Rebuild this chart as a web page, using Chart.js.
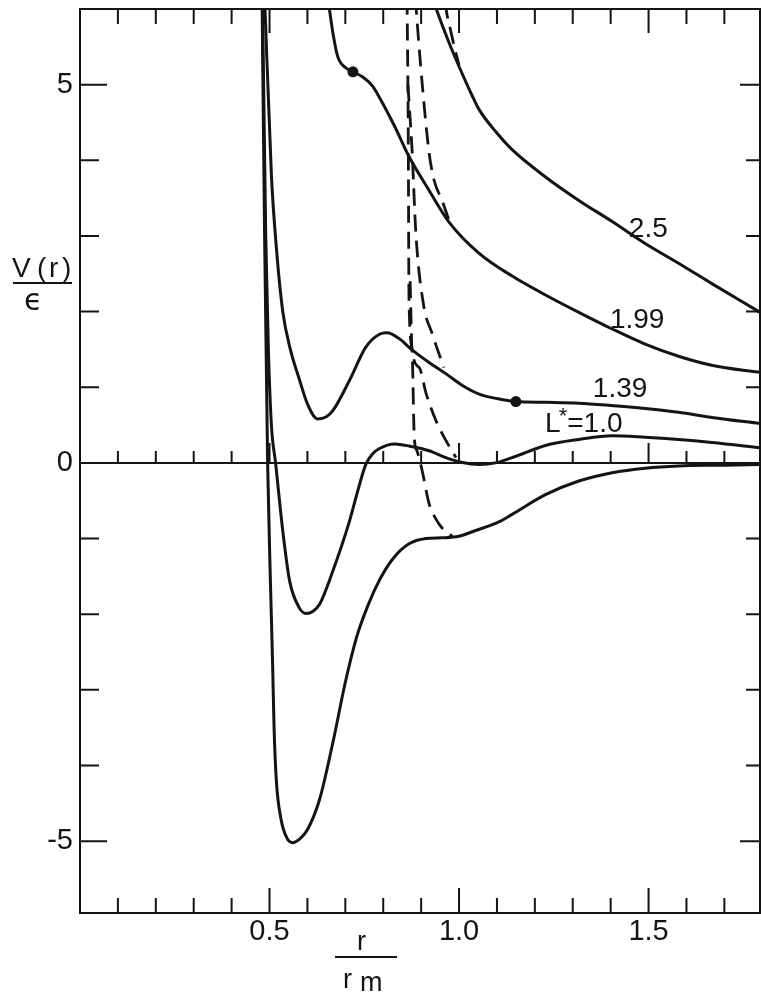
<!DOCTYPE html>
<html>
<head>
<meta charset="utf-8">
<script src="https://cdn.jsdelivr.net/npm/chart.js@4.4.1/dist/chart.umd.min.js"></script>
<style>
  html, body { margin: 0; padding: 0; background: #fff; overflow: hidden; }
  #wrap { width: 761px; height: 995px; position: relative; overflow: hidden; }
  #c { display: block; }
</style>
</head>
<body>
<div id="wrap"><canvas id="c"></canvas></div>
<script>
// ---------- data ----------
const xMin = 0, xMax = 1.794;
const yMin = -5.95, yMax = 6;
const xTickValues = [0.1,0.2,0.3,0.4,0.5,0.6,0.7,0.8,0.9,1.0,1.1,1.2,1.3,1.4,1.5,1.6,1.7];
const xLabelTicks = [0.5, 1.0, 1.5];
const yTickValues = [-5,-4,-3,-2,-1,1,2,3,4,5];
const yLabelTicks = [-5, 0, 5];

// bottom curve (deep well, unlabeled)
const c0X = [0.480,0.487,0.495,0.502,0.508,0.512,0.518,0.530,0.545,0.561,0.580,0.600,0.632,0.667,0.700,0.730,0.760,0.790,0.825,0.868,0.913,0.955,1.000,1.040,1.105,1.140,1.228,1.316,1.404,1.491,1.579,1.700,1.794];
const c0Y = [6.3,3.0,0.0,-1.5,-2.63,-3.5,-4.2,-4.7,-4.95,-5.02,-4.97,-4.85,-4.45,-3.7,-2.9,-2.3,-1.88,-1.55,-1.27,-1.07,-1.0,-0.99,-0.97,-0.90,-0.78,-0.68,-0.42,-0.24,-0.13,-0.07,-0.04,-0.03,-0.02];
// L* = 1.0
const c1X = [0.481,0.490,0.497,0.505,0.516,0.535,0.553,0.579,0.597,0.615,0.632,0.667,0.711,0.735,0.754,0.772,0.790,0.830,0.870,0.921,0.965,1.009,1.053,1.096,1.140,1.228,1.316,1.404,1.491,1.579,1.667,1.794];
const c1Y = [6.3,3.0,1.5,0.5,0.0,-0.9,-1.56,-1.92,-1.99,-1.96,-1.87,-1.43,-0.77,-0.33,-0.02,0.12,0.19,0.25,0.22,0.16,0.07,0.005,-0.02,0.0,0.07,0.23,0.31,0.36,0.34,0.31,0.27,0.20];
// L* = 1.39
const c2X = [0.486,0.505,0.518,0.535,0.555,0.579,0.600,0.627,0.650,0.667,0.711,0.754,0.790,0.810,0.840,0.877,0.920,0.965,1.010,1.053,1.100,1.150,1.230,1.316,1.400,1.491,1.579,1.667,1.794];
const c2Y = [6.3,3.8,2.85,2.0,1.5,1.1,0.78,0.58,0.61,0.69,1.09,1.53,1.70,1.72,1.65,1.49,1.33,1.18,1.02,0.91,0.85,0.81,0.80,0.79,0.76,0.72,0.67,0.60,0.52];
// L* = 1.99
const c3X = [0.652,0.658,0.667,0.680,0.702,0.720,0.746,0.772,0.790,0.830,0.868,0.920,0.974,1.053,1.140,1.228,1.316,1.404,1.491,1.579,1.667,1.755,1.794];
const c3Y = [6.2,6.0,5.69,5.37,5.22,5.17,5.10,4.98,4.83,4.45,4.05,3.61,3.18,2.77,2.47,2.22,1.99,1.77,1.57,1.41,1.29,1.22,1.20];
// L* = 2.5
const c4X = [0.930,0.940,0.970,1.000,1.035,1.053,1.100,1.140,1.228,1.316,1.404,1.491,1.579,1.667,1.794];
const c4Y = [6.15,6.0,5.60,5.24,4.85,4.67,4.36,4.14,3.78,3.47,3.19,2.90,2.64,2.37,1.99];
// dashed loci
const d1X = [0.964,0.966,0.979,0.990,1.000];
const d1Y = [6.1,6.0,5.69,5.45,5.26];
const d2X = [0.885,0.887,0.903,0.921,0.934,0.955,0.974];
const d2Y = [6.15,6.0,5.0,4.1,3.74,3.47,3.2];
const d3X = [0.8625,0.863,0.866,0.868,0.876,0.882,0.889,0.903,0.921,0.940,0.955,0.982];
const d3Y = [6.15,6.0,4.36,2.15,1.49,0.33,0.16,-0.11,-0.54,-0.75,-0.86,-0.97];
const d4X = [0.865,0.876,0.886,0.906,0.929,0.960];
const d4Y = [5.0,4.14,3.04,2.10,1.71,1.26];
const d5X = [0.871,0.876,0.895,0.913,0.939,0.966,0.992];
const d5Y = [2.4,1.49,1.26,0.92,0.56,0.29,0.07];
// inflection dots
const dotX = [0.720, 1.150];
const dotY = [5.17, 0.81];
// curve labels: [text, x, y] (baseline-left anchor, data coords)
const curveLabels = [["2.5", 1.448, 2.99], ["1.99", 1.398, 1.783], ["1.39", 1.353, 0.871]];
const lstarLabel = {x: 1.227, y: 0.408};

// ---------- build ----------
const INK = '#141414';
const pts = (xs, ys) => xs.map((x, i) => ({x, y: ys[i]}));
const solid = (xs, ys) => ({data: pts(xs, ys), showLine: true, borderColor: INK, borderWidth: 3,
  pointRadius: 0, fill: false, cubicInterpolationMode: 'monotone'});
const dashed = (xs, ys) => ({data: pts(xs, ys), showLine: true, borderColor: INK, borderWidth: 2.8,
  borderDash: [17, 9], pointRadius: 0, fill: false, cubicInterpolationMode: 'monotone'});

const framePlugin = {
  id: 'frame',
  beforeDatasetsDraw(chart) {
    const {ctx, chartArea: a, scales: {x, y}} = chart;
    ctx.save();
    ctx.strokeStyle = INK;
    ctx.lineWidth = 2;
    ctx.beginPath();
    ctx.rect(a.left, a.top, a.right - a.left, a.bottom - a.top);
    const y0 = y.getPixelForValue(0);
    ctx.moveTo(a.left, y0); ctx.lineTo(a.right, y0);
    for (const v of xTickValues) {
      const px = x.getPixelForValue(v);
      const major = xLabelTicks.some(m => Math.abs(m - v) < 1e-9);
      ctx.moveTo(px, a.bottom); ctx.lineTo(px, a.bottom - (major ? 25 : 15));
      ctx.moveTo(px, a.top); ctx.lineTo(px, a.top + (major ? 24 : 15));
      ctx.moveTo(px, y0); ctx.lineTo(px, y0 - (major ? 20 : 12));
    }
    for (const v of yTickValues) {
      const py = y.getPixelForValue(v);
      const major = Math.abs(v) === 5;
      ctx.moveTo(a.left, py); ctx.lineTo(a.left + (major ? 27 : 19), py);
      ctx.moveTo(a.right, py); ctx.lineTo(a.right - (major ? 20 : 14), py);
    }
    ctx.stroke();
    ctx.restore();
  },
  afterDraw(chart) {
    const {ctx, scales: {x, y}} = chart;
    ctx.save();
    ctx.fillStyle = INK;
    ctx.textBaseline = 'alphabetic';
    ctx.textAlign = 'left';
    ctx.font = '28px "Liberation Sans"';
    for (const [t, lx, ly] of curveLabels) {
      ctx.fillText(t, x.getPixelForValue(lx), y.getPixelForValue(ly));
    }
    // L*=1.0
    let lx = x.getPixelForValue(lstarLabel.x), ly = y.getPixelForValue(lstarLabel.y);
    ctx.fillText('L', lx, ly);
    lx += ctx.measureText('L').width - 2;
    ctx.font = '22px "Liberation Sans"';
    ctx.fillText('*', lx, ly - 9);
    lx += ctx.measureText('*').width;
    ctx.font = '28px "Liberation Sans"';
    ctx.fillText('=1.0', lx, ly);

    // y-axis title  V(r) / ϵ
    ctx.font = '28px "Liberation Sans"';
    ctx.fillText('V', 12, 277);
    ctx.fillText('(', 37, 277);
    ctx.fillText('r', 49, 277);
    ctx.fillText(')', 62, 277);
    ctx.fillRect(13, 282, 59, 2);
    ctx.font = '30px "DejaVu Sans"';
    ctx.fillText('\u03F5', 24, 310);

    // x-axis title  r / r_m
    ctx.font = '27px "Liberation Sans"';
    ctx.fillText('r', 357, 950);
    ctx.fillRect(335, 956, 62, 2);
    ctx.fillText('r', 343, 988);
    ctx.fillText('m', 360, 991);
    ctx.restore();
  }
};

new Chart(document.getElementById('c'), {
  type: 'scatter',
  data: {
    datasets: [
      solid(c0X, c0Y), solid(c1X, c1Y), solid(c2X, c2Y), solid(c3X, c3Y), solid(c4X, c4Y),
      dashed(d1X, d1Y), dashed(d2X, d2Y), dashed(d3X, d3Y), dashed(d4X, d4Y), dashed(d5X, d5Y),
      {data: pts(dotX, dotY), showLine: false, pointRadius: 5.5, pointBackgroundColor: INK,
       pointBorderColor: INK, borderWidth: 0, clip: false}
    ]
  },
  options: {
    responsive: true,
    maintainAspectRatio: false,
    animation: false,
    events: [],
    layout: {autoPadding: false, padding: {top: 9, right: 1, left: 0, bottom: 0}},
    plugins: {legend: {display: false}, tooltip: {enabled: false}},
    scales: {
      x: {
        type: 'linear', min: xMin, max: xMax,
        grid: {display: false, drawTicks: false},
        border: {display: false},
        afterBuildTicks: s => { s.ticks = xLabelTicks.map(v => ({value: v})); },
        afterFit: s => { s.height = 82; s.paddingLeft = 0; s.paddingRight = 0; },
        ticks: {
          autoSkip: false, maxRotation: 0, padding: 2, color: INK,
          font: {family: 'Liberation Sans', size: 29},
          callback: v => Number(v).toFixed(1)
        }
      },
      y: {
        type: 'linear', min: yMin, max: yMax,
        grid: {display: false, drawTicks: false},
        border: {display: false},
        afterBuildTicks: s => { s.ticks = yLabelTicks.map(v => ({value: v})); },
        afterFit: s => { s.width = 80; s.paddingTop = 0; s.paddingBottom = 0; },
        ticks: {
          autoSkip: false, padding: 7, color: INK,
          font: {family: 'Liberation Sans', size: 29},
          callback: v => String(v)
        }
      }
    }
  },
  plugins: [framePlugin]
});
</script>
</body>
</html>
